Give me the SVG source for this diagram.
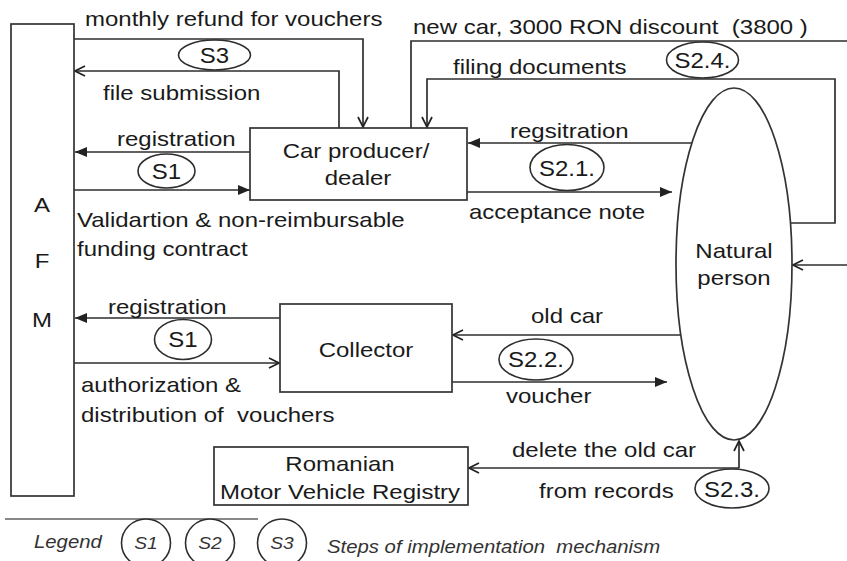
<svg xmlns="http://www.w3.org/2000/svg" width="847" height="561" viewBox="0 0 847 561">
  <style>
    .box { fill: #fff; stroke: #333; stroke-width: 1.7; }
    .conn { fill: none; stroke: #2e2e2e; stroke-width: 1.7; }
    .step { fill: #fff; stroke: #2e2e2e; stroke-width: 1.6; }
    text { font-family: "Liberation Sans", Arial, sans-serif; font-size: 21px; fill: #1a1a1a; }
    .c { text-anchor: middle; }
    .lbl { font-size: 22px; }
    .leg { font-style: italic; font-size: 18px; fill: #333; }
    .legs { font-style: italic; font-size: 17px; fill: #333; }
  </style>
  <defs>
    <marker id="solid" viewBox="0 0 12 10" refX="12" refY="5" markerWidth="12" markerHeight="10" orient="auto" markerUnits="userSpaceOnUse">
      <path d="M0,0 L12,5 L0,10 Z" fill="#222"/>
    </marker>
    <marker id="open" viewBox="0 0 12 12" refX="11" refY="6" markerWidth="12" markerHeight="12" orient="auto" markerUnits="userSpaceOnUse">
      <path d="M1,1 L11,6 L1,11" fill="none" stroke="#222" stroke-width="1.7"/>
    </marker>
  </defs>

  <rect width="847" height="561" fill="#fff"/>

  <!-- connectors -->
  <g id="connectors">
    <path class="conn" d="M74,39 L363,39 L363,127" marker-end="url(#open)"/>
    <path class="conn" d="M339,128 L339,71 L75,71" marker-end="url(#open)"/>
    <path class="conn" d="M250,152 L75,152" marker-end="url(#solid)"/>
    <path class="conn" d="M74,190 L250,190" marker-end="url(#solid)"/>
    <path class="conn" d="M847,41 L411,41 L411,128"/>
    <path class="conn" d="M790,223 L835,223 L835,79 L427,79 L427,127" marker-end="url(#open)"/>
    <path class="conn" d="M692,143 L468,143" marker-end="url(#solid)"/>
    <path class="conn" d="M467,192 L672,192" marker-end="url(#solid)"/>
    <path class="conn" d="M847,265 L793,265" marker-end="url(#open)"/>
    <path class="conn" d="M280,318 L75,318" marker-end="url(#solid)"/>
    <path class="conn" d="M74,363 L279,363" marker-end="url(#open)"/>
    <path class="conn" d="M680,335 L453,335" marker-end="url(#open)"/>
    <path class="conn" d="M452,382 L667,382" marker-end="url(#solid)"/>
    <path class="conn" d="M739,468 L739,441" marker-end="url(#open)"/>
    <path class="conn" d="M739,468 L469,468" marker-end="url(#open)"/>
  </g>

  <!-- flow labels (horizontally widened type) -->
  <g id="flow-labels">
    <text transform="matrix(1.143 0 0 1 85 26)">monthly refund for vouchers</text>
    <text transform="matrix(1.143 0 0 1 103 100)">file submission</text>
    <text transform="matrix(1.143 0 0 1 117 146)">registration</text>
    <text transform="matrix(1.143 0 0 1 77 227)">Validartion &amp; non-reimbursable</text>
    <text transform="matrix(1.143 0 0 1 77 256)">funding contract</text>
    <text transform="matrix(1.143 0 0 1 108 314)">registration</text>
    <text transform="matrix(1.143 0 0 1 81 392)">authorization &amp;</text>
    <text transform="matrix(1.143 0 0 1 81 422)" xml:space="preserve">distribution of  vouchers</text>
    <text transform="matrix(1.143 0 0 1 413 34)" xml:space="preserve">new car, 3000 RON discount  (3800 )</text>
    <text transform="matrix(1.143 0 0 1 453 74)">filing documents</text>
    <text transform="matrix(1.143 0 0 1 510 138)">regsitration</text>
    <text transform="matrix(1.143 0 0 1 469 219)">acceptance note</text>
    <text transform="matrix(1.143 0 0 1 531 323)">old car</text>
    <text transform="matrix(1.143 0 0 1 506 403)">voucher</text>
    <text transform="matrix(1.143 0 0 1 512 457)">delete the old car</text>
    <text transform="matrix(1.143 0 0 1 539 498)">from records</text>
  </g>

  <!-- step markers -->
  <g id="step-S3">
    <ellipse class="step" cx="214.5" cy="55" rx="36" ry="15"/>
    <text class="c lbl" transform="matrix(1.09 0 0 1 214.5 63)">S3</text>
  </g>
  <g id="step-S1-dealer">
    <ellipse class="step" cx="166.5" cy="171" rx="28.5" ry="17"/>
    <text class="c lbl" transform="matrix(1.09 0 0 1 166.5 179)">S1</text>
  </g>
  <g id="step-S1-collector">
    <ellipse class="step" cx="183" cy="339.5" rx="28.5" ry="20"/>
    <text class="c lbl" transform="matrix(1.09 0 0 1 183 347)">S1</text>
  </g>
  <g id="step-S2-4">
    <ellipse class="step" cx="702.5" cy="60" rx="36" ry="18"/>
    <text class="c lbl" transform="matrix(1.09 0 0 1 702.5 68)">S2.4.</text>
  </g>
  <g id="step-S2-1">
    <ellipse class="step" cx="567" cy="167.5" rx="37" ry="23"/>
    <text class="c lbl" transform="matrix(1.09 0 0 1 567 176)">S2.1.</text>
  </g>
  <g id="step-S2-2">
    <ellipse class="step" cx="536" cy="359.5" rx="37" ry="20.5"/>
    <text class="c lbl" transform="matrix(1.09 0 0 1 536 367)">S2.2.</text>
  </g>
  <g id="step-S2-3">
    <ellipse class="step" cx="732" cy="488.5" rx="37" ry="19.5"/>
    <text class="c lbl" transform="matrix(1.09 0 0 1 732 497)">S2.3.</text>
  </g>

  <!-- nodes -->
  <g id="afm">
    <rect class="box" x="11" y="24" width="63" height="472"/>
    <text class="c" transform="matrix(1.143 0 0 1 42 212)">A</text>
    <text class="c" transform="matrix(1.143 0 0 1 42 268)">F</text>
    <text class="c" transform="matrix(1.143 0 0 1 42 327)">M</text>
  </g>
  <g id="car-producer">
    <rect class="box" x="250" y="128" width="217" height="72"/>
    <text class="c" transform="matrix(1.143 0 0 1 356 158)">Car producer/</text>
    <text class="c" transform="matrix(1.143 0 0 1 358 185)">dealer</text>
  </g>
  <g id="collector">
    <rect class="box" x="280" y="304" width="172" height="88"/>
    <text class="c" transform="matrix(1.143 0 0 1 366 357)">Collector</text>
  </g>
  <g id="natural-person">
    <ellipse class="box" cx="734" cy="264" rx="58" ry="176"/>
    <text class="c" transform="matrix(1.143 0 0 1 734 258)">Natural</text>
    <text class="c" transform="matrix(1.143 0 0 1 734 285)">person</text>
  </g>
  <g id="registry">
    <rect class="box" x="214" y="447" width="254" height="58"/>
    <text class="c" transform="matrix(1.143 0 0 1 340 471)">Romanian</text>
    <text class="c" transform="matrix(1.143 0 0 1 340 499)">Motor Vehicle Registry</text>
  </g>

  <!-- legend -->
  <g id="legend">
    <line x1="5" y1="519" x2="258" y2="519" stroke="#888" stroke-width="2"/>
    <text class="leg" transform="matrix(1.13 0 0 1 34 548)">Legend</text>
    <ellipse class="step" cx="146" cy="543" rx="24.5" ry="24"/>
    <text class="c legs" transform="matrix(1.13 0 0 1 146 549)">S1</text>
    <ellipse class="step" cx="210" cy="543" rx="24.5" ry="24"/>
    <text class="c legs" transform="matrix(1.13 0 0 1 210 549)">S2</text>
    <ellipse class="step" cx="282" cy="543" rx="24.5" ry="24"/>
    <text class="c legs" transform="matrix(1.13 0 0 1 282 549)">S3</text>
    <text class="leg" transform="matrix(1.13 0 0 1 327 553)" xml:space="preserve">Steps of implementation  mechanism</text>
  </g>
</svg>
